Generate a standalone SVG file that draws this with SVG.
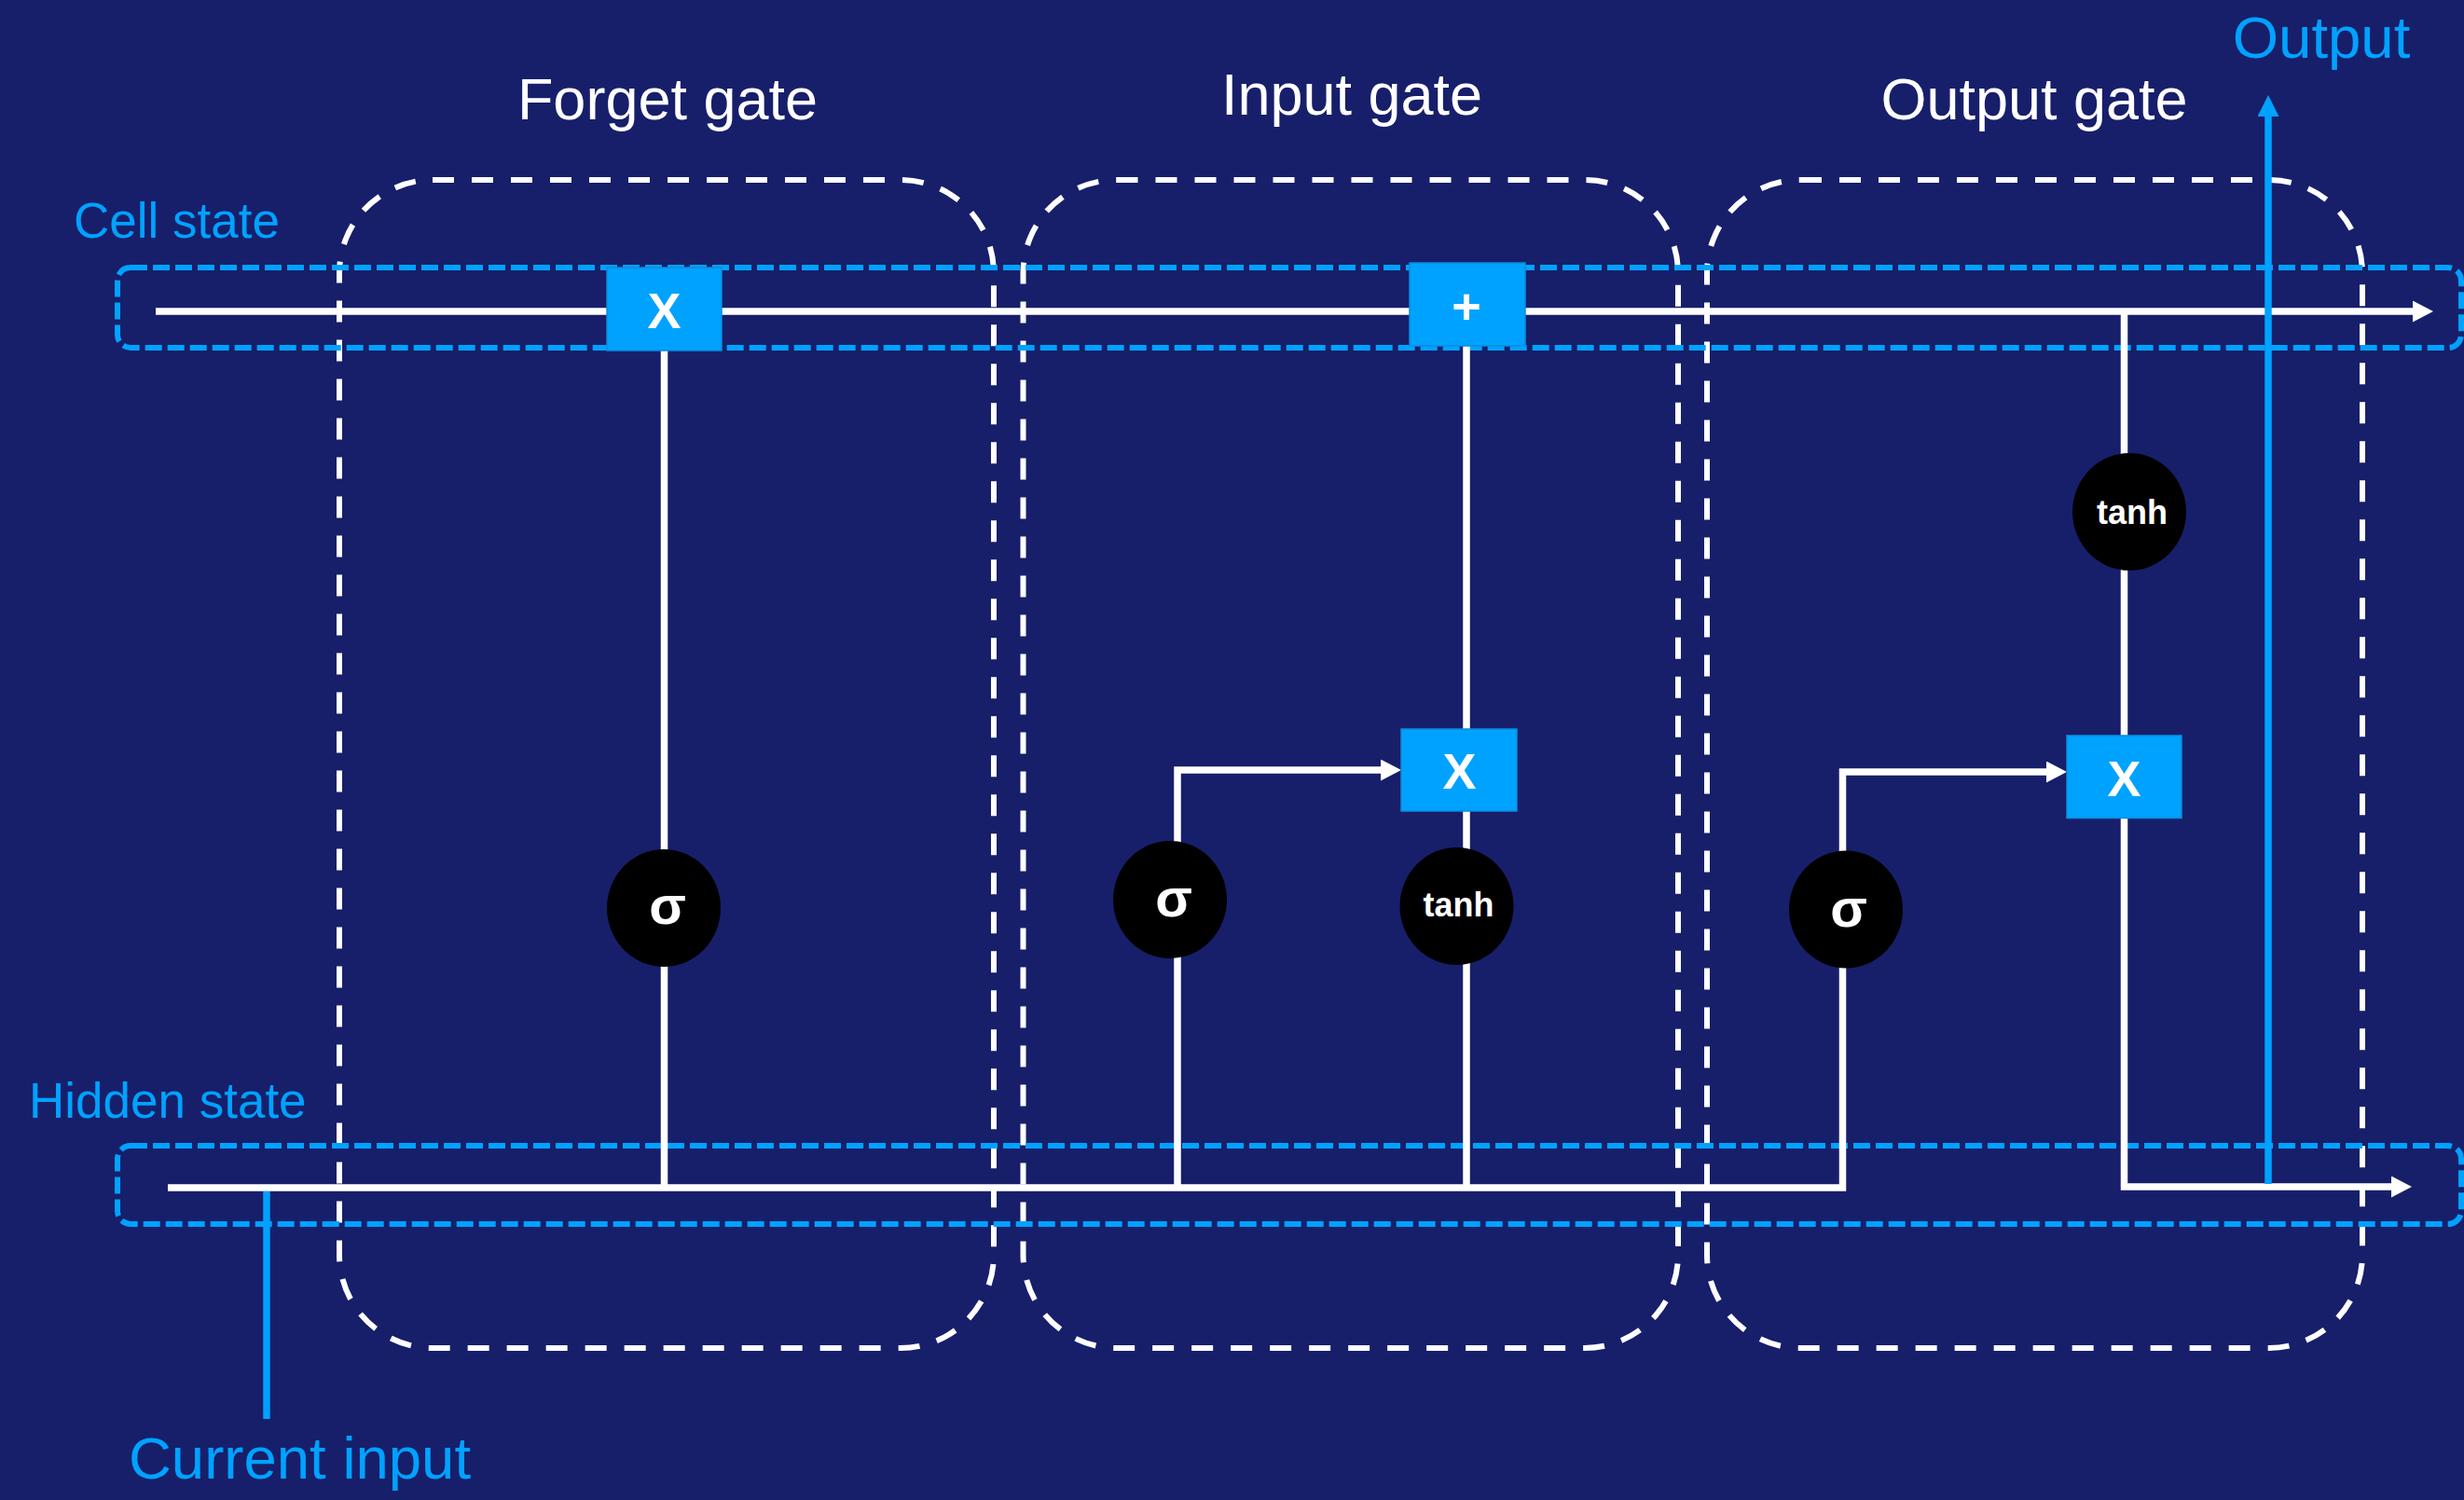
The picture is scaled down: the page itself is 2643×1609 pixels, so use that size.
<svg xmlns="http://www.w3.org/2000/svg" width="2643" height="1609" viewBox="0 0 2643 1609">
<style>
.gate{fill:none;stroke:#ffffff;stroke-width:6;stroke-dasharray:23 19}
.band{fill:none;stroke:#00A2FF;stroke-width:6;stroke-dasharray:18 6}
.wl{fill:none;stroke:#ffffff;stroke-width:7.5}
.bl{fill:none;stroke:#00A2FF;stroke-width:7.5}
.op{fill:#00A2FF;stroke:#0C8CDB;stroke-width:1.5}
.act{fill:#000000}
.title{font-family:"Liberation Sans",Arial,sans-serif;font-size:63px;fill:#ffffff;text-anchor:middle}
.lbl{font-family:"Liberation Sans",Arial,sans-serif;font-size:53px;fill:#00A2FF}
.big{font-family:"Liberation Sans",Arial,sans-serif;font-size:63.5px;fill:#00A2FF}
.opt{font-family:"Liberation Sans",Arial,sans-serif;font-weight:bold;font-size:54px;fill:#ffffff;text-anchor:middle}
.sig{font-family:"Liberation Sans",Arial,sans-serif;font-weight:bold;font-size:58px;fill:#ffffff;text-anchor:middle}
.tanh{font-family:"Liberation Sans",Arial,sans-serif;font-weight:bold;font-size:36px;fill:#ffffff;text-anchor:middle}
</style>
<defs>
<marker id="aw" markerUnits="userSpaceOnUse" viewBox="0 0 22 23" markerWidth="22" markerHeight="23" refX="0" refY="11.5" orient="auto"><path d="M0 0L22 11.5L0 23Z" fill="#ffffff"/></marker>
<marker id="ab" markerUnits="userSpaceOnUse" viewBox="0 0 23 23" markerWidth="23" markerHeight="23" refX="0" refY="11.5" orient="auto"><path d="M0 0L23 11.5L0 23Z" fill="#00A2FF"/></marker>
</defs>
<rect width="2643" height="1609" fill="#171F6B"/>

<g id="forget-gate"><rect class="gate" x="364" y="193" width="702" height="1253" rx="100"/><text class="title" x="716" y="128">Forget gate</text></g>
<g id="input-gate"><rect class="gate" x="1097.5" y="193" width="702.5" height="1253" rx="100"/><text class="title" x="1450" y="123">Input gate</text></g>
<g id="output-gate"><rect class="gate" x="1831" y="193" width="703" height="1253" rx="100"/><text class="title" x="2182" y="128">Output gate</text></g>

<g id="cell-state"><rect class="band" x="126" y="287" width="2514" height="86" rx="14"/><text class="lbl" x="79" y="255">Cell state</text></g>
<g id="hidden-state"><rect class="band" x="126" y="1229" width="2514" height="84" rx="14"/><text class="lbl" x="31" y="1199">Hidden state</text></g>

<g id="connectors">
<path class="wl" d="M167 334H2588" marker-end="url(#aw)"/>
<path class="wl" d="M180 1274H1976.5V828H2195" marker-end="url(#aw)"/>
<path class="wl" d="M712.5 376V1274"/>
<path class="wl" d="M1263 1274V826H1481" marker-end="url(#aw)"/>
<path class="wl" d="M1573 371V1274"/>
<path class="wl" d="M2278.5 334V1273H2565" marker-end="url(#aw)"/>
<path class="bl" d="M2433 1270V125" marker-end="url(#ab)"/>
<path class="bl" d="M286 1278V1522"/>
</g>

<g id="forget-mul"><rect class="op" x="651" y="287" width="123" height="89"/><text class="opt" x="712.5" y="352">X</text></g>
<g id="forget-sigma"><ellipse class="act" cx="712" cy="974" rx="61" ry="63"/><text class="sig" x="716" y="991">σ</text></g>

<g id="input-add"><rect class="op" x="1512" y="282" width="124" height="89"/><text class="opt" x="1573" y="347" font-size="56">+</text></g>
<g id="input-mul"><rect class="op" x="1503" y="782" width="124" height="88"/><text class="opt" x="1565.5" y="846">X</text></g>
<g id="input-sigma"><ellipse class="act" cx="1255" cy="965" rx="61" ry="63"/><text class="sig" x="1259" y="983">σ</text></g>
<g id="input-tanh"><ellipse class="act" cx="1562.5" cy="972" rx="61" ry="63"/><text class="tanh" x="1564.5" y="983">tanh</text></g>

<g id="output-sigma"><ellipse class="act" cx="1980" cy="975.5" rx="61" ry="63"/><text class="sig" x="1983" y="994">σ</text></g>
<g id="output-mul"><rect class="op" x="2217" y="789" width="123" height="88.5"/><text class="opt" x="2278.5" y="853.5">X</text></g>
<g id="output-tanh"><ellipse class="act" cx="2284" cy="549" rx="61" ry="63"/><text class="tanh" x="2287" y="561.5">tanh</text></g>

<g id="output-label"><text class="big" x="2490" y="62" text-anchor="middle">Output</text></g>
<g id="current-input-label"><text class="big" x="138" y="1586">Current input</text></g>
</svg>
